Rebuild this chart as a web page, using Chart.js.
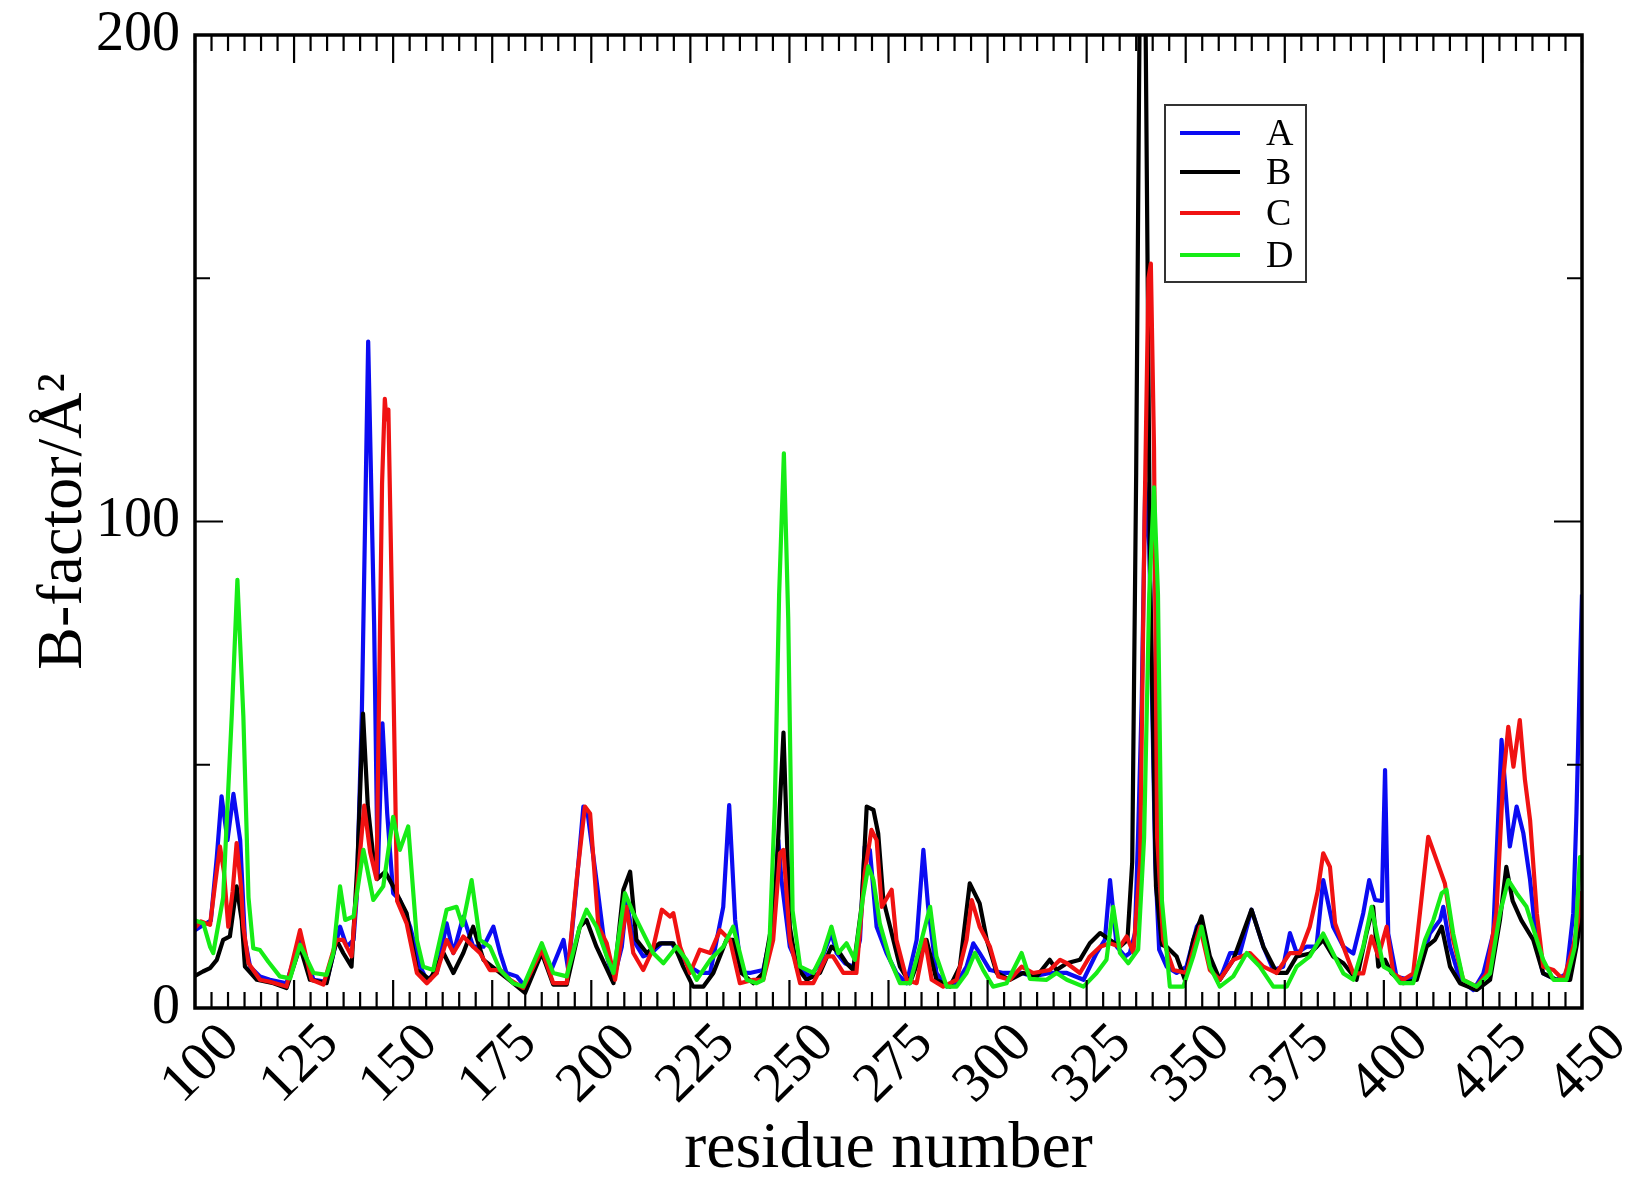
<!DOCTYPE html>
<html>
<head>
<meta charset="utf-8">
<title>B-factor per residue</title>
<script src="https://cdn.jsdelivr.net/npm/chart.js@4.4.1/dist/chart.umd.min.js"></script>
<style>
  html, body { margin: 0; padding: 0; background: #fff; }
  #wrap { width: 1625px; height: 1183px; }
</style>
</head>
<body>
<div id="wrap"><canvas id="bfactorChart" width="1625" height="1183"></canvas></div>
<script>
// chain labels and colours (xmgrace defaults)
var chains = ['A', 'B', 'C', 'D'];
var colours = ['#0b0bf2', '#000000', '#f01212', '#16ec16'];

// residue number / B-factor pairs per chain
var resA = [100, 102, 104, 105.5, 106.7, 108.2, 109.7, 111.4, 112.6, 113.9, 116.4, 118.9, 123.1, 126.5, 129.9, 133.2, 136.6, 138.3, 140, 140.8, 142.1, 143.7, 145.2, 146.1, 147.3, 148.5, 150, 151.7, 154.3, 156.8, 158.5, 161, 163.5, 165.2, 167.7, 170.2, 172.8, 175.3, 177, 178.6, 181.2, 183.3, 187.5, 189.6, 193, 194.2, 196.3, 198, 199, 201.3, 203.5, 205.6, 207.7, 208.9, 210.6, 213.1, 215.2, 217.8, 220.3, 222.4, 224.9, 227.4, 230, 233.3, 234.8, 236.3, 237.9, 240, 243.4, 245.9, 247.2, 248, 250.1, 252.7, 255.2, 257.7, 260.6, 261.9, 264, 266.1, 267.8, 269, 270.3, 272, 274.5, 277, 279.6, 282.1, 283.8, 285, 287.1, 289.7, 292.2, 294.7, 296.4, 298, 300.6, 304, 308.6, 311.5, 315.7, 320, 324.2, 327.5, 329.6, 330.9, 332.6, 334.7, 335.9, 337.2, 338, 338.9, 339.8, 340.8, 342.3, 343.3, 345.2, 347.7, 350.2, 352.8, 354, 356.1, 358.6, 361.2, 363.7, 366.6, 369.6, 372.1, 374.6, 376.3, 378, 380.5, 383, 384.7, 387.2, 389.8, 392.3, 394.8, 396.3, 397.8, 399.5, 400.3, 401.1, 403.2, 406.6, 409.1, 411.6, 414.2, 415, 416.7, 419.2, 422.6, 425.1, 427.6, 429.7, 431.8, 433.5, 435.2, 436.9, 438.6, 440.2, 443.6, 446.1, 447.8, 448.6, 449.5, 450];
var bfacA = [16, 17, 18, 31, 43.5, 34.5, 44, 34.5, 14, 8.5, 6.5, 5.8, 5.1, 14, 5.8, 5.4, 16.7, 12.6, 14, 22.7, 60.5, 137, 79, 27, 58.5, 40, 23.6, 22.2, 16.7, 8.5, 5.8, 7.2, 17.4, 11.3, 18.8, 12.6, 12.6, 16.7, 11.3, 7.2, 6.5, 4.4, 12, 7.2, 14, 7.8, 25.6, 41.4, 40.5, 26.3, 12, 5.8, 12.6, 22.2, 14, 10.6, 11.3, 13.3, 13.3, 10.6, 8.5, 7.2, 7.2, 20.8, 41.7, 18.1, 7.2, 7.2, 7.8, 17.4, 34.5, 26.3, 12.6, 7.8, 6.5, 9.2, 15.4, 11.3, 9.2, 8.5, 14, 33.2, 32.5, 16.7, 11.3, 7.2, 5.1, 14, 32.5, 20.8, 7.2, 4.4, 5.1, 8.5, 13.3, 11.3, 7.8, 7.2, 7.2, 6.5, 7.2, 7.2, 5.8, 11.3, 14, 26.3, 12.6, 10.6, 11.3, 15.4, 36, 63, 108, 95, 30, 12, 8.5, 7.2, 8.5, 16.7, 18.1, 8.5, 5.8, 11.3, 11.3, 20.2, 12.6, 7.8, 8.5, 15.4, 11.3, 12.6, 12.6, 26.3, 16.7, 12.6, 11.2, 19.5, 26.3, 22.2, 22, 48.9, 15.3, 6.4, 5.8, 8.5, 15.3, 18.1, 20.8, 12.6, 5.8, 3.7, 7.1, 15.3, 55.1, 33.2, 41.4, 35.9, 26.3, 12.6, 7.1, 5.8, 7.1, 19.5, 40, 70, 85];

var resB = [100, 102, 103.8, 105.5, 107.1, 108.8, 110.5, 111.8, 112.6, 115.6, 119.8, 123.1, 126.5, 129, 133.2, 135.7, 137.4, 139.5, 141, 142.4, 143.6, 145, 146, 148, 150, 151.7, 153.4, 156, 159.3, 162.7, 165.2, 167.7, 170.2, 172.8, 177, 180.3, 183.3, 187.5, 190.4, 193.8, 197.1, 198.8, 201.3, 205.6, 208.1, 209.8, 211.4, 214, 217.3, 220.7, 223.2, 225.7, 228.3, 230.8, 234.1, 235.8, 237.9, 240.9, 243.4, 246.3, 248.5, 250.1, 251.8, 254.3, 257.7, 260.6, 262.7, 264.4, 266.1, 268.2, 269.5, 271.2, 272.4, 273.7, 275.4, 277.9, 280.4, 282.9, 284.6, 287.1, 290.5, 293, 295.5, 298, 299.8, 302.3, 305.6, 309, 312.4, 315.7, 317.4, 320, 323.3, 325.8, 328.4, 330.9, 333.4, 335.3, 336.5, 337.5, 338.6, 339.6, 341, 342.5, 344, 345.2, 347.7, 349.8, 351.9, 354, 356.1, 358.6, 362, 366.6, 369.6, 373, 375.5, 378, 381.4, 384.7, 387.2, 389.8, 393.1, 395.6, 397.3, 398.6, 400.3, 402, 404.9, 408.3, 410.8, 412.9, 414.6, 416.7, 419.2, 423.4, 426.8, 429.3, 430.9, 432.5, 434.7, 437.7, 440.2, 443.6, 447, 448.6, 450];
var bfacB = [6.6, 7.5, 8.2, 9.9, 14, 14.7, 25, 18, 8.5, 5.8, 5.1, 4.1, 12.6, 5.8, 5.1, 14, 11.3, 8.5, 30, 60.5, 41.6, 31, 26.5, 28, 25, 22.2, 19.5, 7.8, 5.8, 11.3, 7.2, 11.3, 16.7, 9.9, 7.2, 5.1, 3.1, 11.3, 4.8, 4.8, 16.7, 18.1, 12.6, 5.1, 24.3, 28, 14, 11.3, 13.3, 13.3, 8.5, 4.4, 4.4, 7.2, 14, 14, 7.2, 5.1, 7.2, 20.8, 56.6, 16.7, 8.5, 5.8, 7.2, 12.6, 11.3, 9.2, 7.8, 20.8, 41.4, 40.7, 35.9, 22.2, 16.7, 8.5, 5.1, 10.6, 14, 5.8, 4.4, 8.5, 25.6, 21.5, 14, 7.2, 5.8, 7.2, 6.5, 9.9, 7.8, 9.2, 9.9, 13.3, 15.4, 14, 12.6, 14, 30, 110, 230, 230, 90, 25, 13, 12.6, 10.6, 5.8, 14, 18.8, 10.6, 5.8, 9.9, 20.2, 12.6, 7.2, 7.2, 10.6, 11.2, 14, 10.6, 9.2, 5.8, 15.3, 20.8, 8.5, 9.9, 7.1, 5.1, 5.8, 12.6, 14, 16.7, 8.5, 5.1, 3.7, 5.8, 18.1, 29, 22, 18, 14, 7.1, 5.8, 5.8, 12.6, 20];

var resC = [100, 101.5, 103.8, 105, 106.3, 107.3, 108.4, 109.5, 110.5, 111.6, 112.2, 113.5, 116.4, 118.9, 123.1, 126.5, 129.4, 132.4, 135.7, 137.4, 139.5, 141.2, 142.7, 144.2, 145.8, 147.2, 147.9, 148.3, 148.8, 150, 151, 153.4, 156, 158.5, 161, 163.5, 165.2, 167.7, 170.2, 171.9, 174.4, 177, 179.5, 182.8, 187.5, 190.4, 193.8, 196.3, 198.4, 199.7, 201.8, 203.9, 206, 208.9, 210.6, 213.1, 215.5, 217.8, 219.9, 220.7, 222.4, 224.9, 227.4, 230, 232.5, 235, 237.5, 240.9, 243.4, 245.9, 247.6, 248.5, 250.1, 252.7, 256, 259.4, 261, 263.6, 266.9, 269, 270.7, 272, 273.3, 275.8, 277, 279.6, 282.1, 284.2, 285.9, 288.8, 292.2, 294.7, 296, 298, 300.6, 302.7, 305.6, 308.6, 311.5, 315.7, 318.3, 320, 323.3, 325.8, 328.4, 330.9, 333.4, 335.1, 336.8, 338.5, 339.6, 340.6, 341.2, 342, 342.8, 344.3, 346.9, 350.2, 353.6, 356.1, 358.6, 362, 366.2, 369.6, 372.9, 376.3, 378.8, 381.3, 383.3, 384.7, 386.4, 387.7, 389.8, 392.3, 394.8, 396.9, 398.6, 400.7, 402.4, 404.9, 407.4, 409.1, 411.2, 413.3, 415.4, 417.5, 420, 423.4, 425.9, 428.4, 430.1, 431.4, 432.7, 434.3, 435.6, 436.9, 438.6, 440.2, 442.8, 445.3, 447.8, 449.5, 450];
var bfacC = [16.5, 17.8, 17.1, 25, 33.2, 28, 16.7, 24, 33.9, 25, 16.7, 9.2, 5.8, 5.4, 4.4, 16, 5.8, 4.8, 14, 14, 10.6, 27.7, 41.6, 32, 26.5, 107.7, 125.2, 121, 123, 70, 22, 17.4, 7.2, 5.1, 7.2, 14, 11.3, 14.7, 12.6, 11.3, 7.8, 7.8, 5.8, 4.1, 12, 5.1, 5.1, 26.3, 41.4, 40, 16.7, 13.3, 5.8, 20.8, 11.3, 7.8, 12, 20.2, 18.8, 19.5, 12.6, 7.2, 12, 11.3, 16, 14, 5.1, 5.8, 5.8, 14, 31.8, 32.5, 14, 5.1, 5.1, 10.6, 10.6, 7.2, 7.2, 27.7, 36.6, 34.5, 20.8, 24.3, 14, 5.8, 5.1, 14, 5.8, 4.4, 5.8, 14, 22.2, 16.7, 12.6, 6.5, 5.8, 8.5, 7.2, 7.8, 9.9, 9.2, 7.2, 10.6, 12.6, 13.3, 12.6, 14.7, 11.3, 30, 100, 150, 153, 115, 35, 14, 7.8, 7.2, 16.7, 7.8, 5.8, 9.9, 11.3, 8.5, 7.2, 11.3, 11.3, 16.7, 24, 31.8, 29, 17.4, 12.6, 7.1, 7.1, 14.7, 10.6, 16.7, 7.1, 5.8, 7.1, 19.5, 35.2, 30.4, 25.6, 14, 5.8, 4.4, 7.1, 19.5, 46.9, 57.8, 49.6, 59.2, 46.9, 38.6, 19.5, 8.5, 7.8, 5.8, 12.6, 20, 24];

var resD = [100, 102.1, 103.8, 104.6, 107.1, 109.3, 110.7, 112.2, 113.5, 114.7, 116.4, 118.5, 121.4, 124, 126.5, 129.9, 133.2, 134.9, 136.6, 137.9, 140, 142.5, 145, 147.5, 150, 151.7, 153.8, 156, 157.6, 160.1, 163.5, 166, 167.5, 169.8, 171.9, 174.4, 177, 180.3, 182.8, 187.5, 190.4, 193.8, 197.1, 198.8, 201.3, 203.9, 205.6, 208.5, 210.6, 213.1, 215.6, 218.2, 221.5, 224, 226.6, 230, 233.3, 235.8, 237.5, 239.2, 241.7, 243.4, 245, 246.3, 247.4, 248.6, 249.7, 250.8, 252.7, 256, 258.5, 260.6, 262.3, 264.4, 266.5, 268.6, 269.9, 271.2, 272.8, 275.4, 277.9, 280.4, 282.9, 285.5, 287.1, 289.7, 292.2, 294.7, 296.8, 298.9, 301.4, 304.8, 308.6, 310.7, 314.9, 317.4, 320, 324.2, 327.5, 330, 331.7, 333.4, 335.5, 338, 339.5, 340.8, 342, 343, 344, 346, 349.4, 351.9, 354, 356.1, 358.6, 362, 365.4, 368.7, 372.1, 375.5, 378, 381.3, 384.7, 387.2, 389.8, 392.3, 394.8, 396.9, 398.2, 399.9, 401.5, 404.1, 407.4, 410.4, 412.5, 414.6, 415.8, 417.5, 420, 423.4, 426.8, 429.3, 431.4, 433.5, 436, 438.6, 440.2, 442.8, 446.1, 448.2, 449.5, 450];
var bfacD = [18, 17.4, 12.6, 11.3, 22.7, 60.5, 88, 60, 22.7, 12.3, 11.9, 9.5, 6.5, 6.1, 13, 7.2, 6.8, 11.3, 25, 18.1, 18.8, 32.5, 22.2, 25, 39.3, 32.5, 37.3, 14, 8.5, 7.8, 20.2, 20.8, 17, 26.3, 14, 12.6, 7.8, 5.1, 4.4, 13.3, 7.2, 6.5, 16.7, 20.2, 16.7, 10.6, 7.2, 23.6, 19.5, 15.4, 11.3, 9.2, 12.6, 9.9, 5.8, 9.9, 12.6, 16.7, 11.3, 5.8, 5.1, 5.8, 14, 41.4, 85, 114, 80, 20, 8.5, 7.2, 11.3, 16.7, 11.3, 13.3, 9.9, 22.9, 29.1, 26.3, 17.4, 9.9, 5.1, 5.1, 12.6, 20.8, 10.6, 4.4, 4.4, 7.2, 11.3, 7.8, 4.4, 5.1, 11.3, 6, 5.8, 7.2, 5.8, 4.4, 7.2, 9.9, 20.8, 11.3, 9.2, 12, 35, 85, 107, 85, 22, 4.4, 4.4, 10.6, 16.7, 8.5, 4.4, 6.5, 11.3, 8.5, 4.4, 4.4, 8.5, 10.6, 15.3, 11.2, 7.1, 5.8, 12.6, 20.8, 15.3, 8.5, 7.8, 5.1, 5.1, 14, 18.1, 23.6, 24.3, 15.3, 5.8, 4.4, 7.1, 19.5, 26.3, 23.6, 20.8, 14, 9.9, 5.8, 5.8, 12.6, 31, 31];

// axis ticks
var xMin = 100, xMax = 450, xStep = 25, xMinorPerMajor = 6;
var yMin = 0, yMax = 200, yStep = 100, yMinorPerMajor = 2;

var serif = "'Liberation Serif', 'Times New Roman', serif";

function toPoints(res, bfac) {
	var pts = [];
	for (var i = 0; i < res.length; i++) {
		pts.push({x: res[i], y: bfac[i]});
	}
	return pts;
}

var seriesRes = [resA, resB, resC, resD];
var seriesBfac = [bfacA, bfacB, bfacC, bfacD];

var datasets = chains.map(function (name, i) {
	return {
		label: name,
		data: toPoints(seriesRes[i], seriesBfac[i]),
		borderColor: colours[i],
		backgroundColor: colours[i],
		borderWidth: 4.2,
		borderJoinStyle: 'round',
		pointRadius: 0,
		tension: 0,
		fill: false,
		// last chain is drawn on top
		order: chains.length - 1 - i
	};
});

// box round the plot with inward ticks on all four sides, plus the legend box
var frameAndLegend = {
	id: 'frameAndLegend',
	afterDatasetsDraw: function (chart) {
		var ctx = chart.ctx;
		var a = chart.chartArea;
		var xs = chart.scales.x, ys = chart.scales.y;
		ctx.save();
		ctx.strokeStyle = '#000';
		ctx.lineCap = 'butt';

		ctx.lineWidth = 2.2;
		ctx.beginPath();
		var nx = (xMax - xMin) / xStep * xMinorPerMajor;
		for (var i = 0; i <= nx; i++) {
			var px = xs.getPixelForValue(xMin + i * xStep / xMinorPerMajor);
			var len = (i % xMinorPerMajor === 0) ? 28 : 16;
			ctx.moveTo(px, a.bottom); ctx.lineTo(px, a.bottom - len);
			ctx.moveTo(px, a.top); ctx.lineTo(px, a.top + len);
		}
		var ny = (yMax - yMin) / yStep * yMinorPerMajor;
		for (var j = 0; j <= ny; j++) {
			var py = ys.getPixelForValue(yMin + j * yStep / yMinorPerMajor);
			var ylen = (j % yMinorPerMajor === 0) ? 28 : 15;
			ctx.moveTo(a.left, py); ctx.lineTo(a.left + ylen, py);
			ctx.moveTo(a.right, py); ctx.lineTo(a.right - ylen, py);
		}
		ctx.stroke();

		ctx.lineWidth = 3.5;
		ctx.strokeRect(a.left, a.top, a.right - a.left, a.bottom - a.top);

		// legend
		var bx = 1165, by = 105, bw = 141, bh = 177;
		ctx.fillStyle = '#fff';
		ctx.fillRect(bx, by, bw, bh);
		ctx.lineWidth = 2;
		ctx.strokeStyle = '#333';
		ctx.strokeRect(bx, by, bw, bh);
		var rowY = [133, 172, 213, 255];
		ctx.font = '38px ' + serif;
		ctx.textBaseline = 'middle';
		ctx.textAlign = 'left';
		chart.data.datasets.forEach(function (ds, k) {
			ctx.strokeStyle = ds.borderColor;
			ctx.lineWidth = 4;
			ctx.beginPath();
			ctx.moveTo(1180, rowY[k]);
			ctx.lineTo(1240, rowY[k]);
			ctx.stroke();
			ctx.fillStyle = '#000';
			ctx.fillText(ds.label, 1266, rowY[k] + 2);
		});
		ctx.restore();
	}
};

var chartCtx = document.getElementById('bfactorChart');

var bfactorChart = new Chart(chartCtx, {
	type: 'line',
	data: { datasets: datasets },
	options: {
		responsive: false,
		animation: false,
		devicePixelRatio: 1,
		layout: { padding: { top: 35, right: 43, left: 0, bottom: 0 } },
		plugins: {
			legend: { display: false },
			tooltip: { enabled: false }
		},
		scales: {
			x: {
				type: 'linear',
				min: xMin,
				max: xMax,
				afterFit: function (scale) {
					scale.height = 175;
					scale.paddingLeft = 0;
					scale.paddingRight = 0;
				},
				grid: { display: false, drawTicks: false },
				border: { display: false },
				ticks: {
					stepSize: xStep,
					autoSkip: false,
					minRotation: 45,
					maxRotation: 45,
					padding: 3,
					labelOffset: 36,
					color: '#000',
					font: { family: serif, size: 56 }
				},
				title: {
					display: true,
					text: 'residue number',
					color: '#000',
					padding: 0,
					font: { family: serif, size: 66, lineHeight: 1 }
				}
			},
			y: {
				type: 'linear',
				min: yMin,
				max: yMax,
				afterFit: function (scale) {
					scale.width = 195;
					scale.paddingTop = 0;
					scale.paddingBottom = 0;
				},
				grid: { display: false, drawTicks: false },
				border: { display: false },
				ticks: {
					stepSize: yStep,
					padding: 15,
					color: '#000',
					font: { family: serif, size: 56 }
				},
				title: {
					display: true,
					text: 'B-factor/Å²',
					color: '#000',
					padding: { top: 32, bottom: 0 },
					font: { family: serif, size: 64, lineHeight: 1 }
				}
			}
		}
	},
	plugins: [frameAndLegend]
});
</script>
</body>
</html>
